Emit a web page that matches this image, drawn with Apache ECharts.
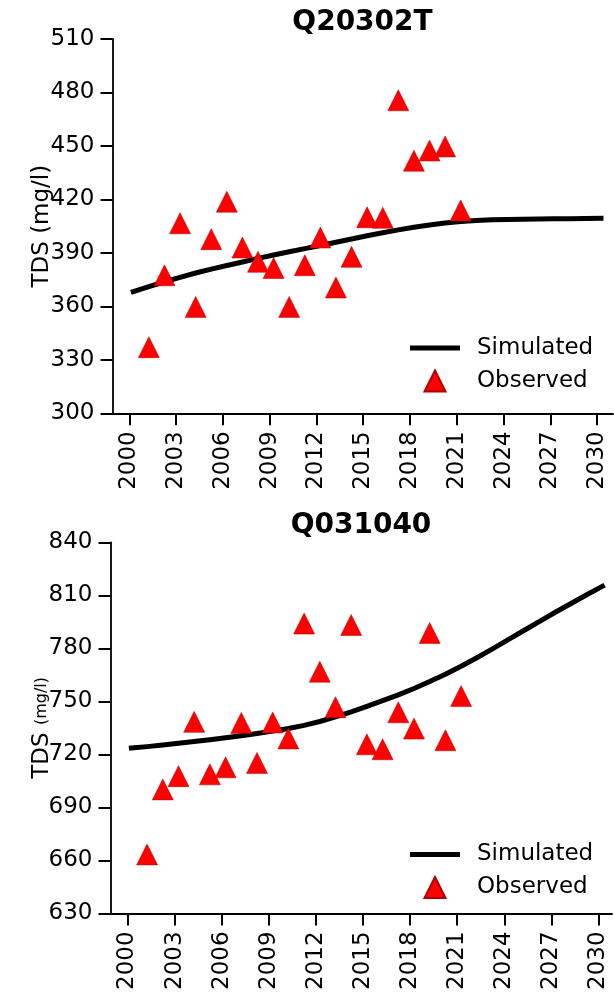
<!DOCTYPE html>
<html>
<head>
<meta charset="utf-8">
<script src="https://cdn.jsdelivr.net/npm/echarts@6/dist/echarts.min.js"></script>
<style>
  html, body { margin: 0; padding: 0; background: #fff; }
  #chart { width: 614px; height: 993px; }
</style>
</head>
<body>
<div id="chart"></div>
<script>
// decimal years, simulated series
const simYears = [2000.25, 2001.25, 2002.25, 2003.25, 2004.25, 2005.25, 2006.25, 2007.25, 2008.25, 2009.25,
  2010.25, 2011.25, 2012.25, 2013.25, 2014.25, 2015.25, 2016.25, 2017.25, 2018.25, 2019.25,
  2020.25, 2021.25, 2022.25, 2023.25, 2024.25, 2025.25, 2026.25, 2027.25, 2028.25, 2029.25, 2030.25];
const topSim = [368.3, 371.1, 373.8, 376.3, 378.7, 380.9, 382.9, 384.9, 386.9, 388.8,
  390.6, 392.4, 394.1, 396.0, 397.8, 399.6, 401.3, 402.9, 404.4, 405.7,
  406.8, 407.6, 408.2, 408.6, 408.8, 408.9, 409.0, 409.1, 409.2, 409.3, 409.4];
const bottomSim = [723.6, 724.4, 725.3, 726.25, 727.25, 728.3, 729.4, 730.55, 731.8, 733.15,
  734.65, 736.4, 738.6, 741.2, 744.1, 747.2, 750.4, 753.7, 757.3, 761.2,
  765.4, 769.9, 774.7, 779.7, 784.9, 790.1, 795.3, 800.4, 805.4, 810.3, 815.1];

// observed samples
const obsYears = [2001.25, 2002.25, 2003.25, 2004.25, 2005.25, 2006.25, 2007.25, 2008.25, 2009.25, 2010.25,
  2011.25, 2012.25, 2013.25, 2014.25, 2015.25, 2016.25, 2017.25, 2018.25, 2019.25, 2020.25, 2021.25];
const topObs = [337.1, 377.4, 406.6, 359.7, 397.7, 418.7, 393.0, 385.0, 381.5, 359.7,
  383.1, 398.6, 370.6, 387.8, 410.0, 409.7, 475.6, 441.7, 447.4, 449.7, 413.8];
const bottomObs = [663.4, 700.2, 707.7, 738.4, 708.7, 712.7, 737.8, 715.2, 738.1, 729.0,
  794.0, 766.8, 746.7, 793.2, 725.7, 722.9, 743.8, 734.6, 788.7, 728.0, 753.0];

const yearTicks = [2000, 2003, 2006, 2009, 2012, 2015, 2018, 2021, 2024, 2027, 2030];
const titles = ['Q20302T', 'Q031040'];

const FONT = 'DejaVu Sans';
const pair = (xs, ys) => xs.map((x, i) => [x, ys[i]]);

const axisLine = { show: true, lineStyle: { color: '#000', width: 1.8 } };
const axisTick = { show: true, length: 12, lineStyle: { color: '#000', width: 2 } };

function xAxis(gridIndex, min, max) {
  return {
    type: 'value', gridIndex, min, max,
    axisLine, splitLine: { show: false },
    axisTick: { ...axisTick, customValues: yearTicks },
    axisLabel: { customValues: yearTicks, formatter: (v) => String(v), rotate: 90, margin: 18,
      fontSize: 23, fontFamily: FONT, color: '#000' },
  };
}

function yAxis(gridIndex, min, max, name, gap, nameStyle) {
  return {
    type: 'value', gridIndex, min, max, interval: 30,
    axisLine, axisTick, splitLine: { show: false },
    axisLabel: { margin: 18, fontSize: 23, fontFamily: FONT, color: '#000' },
    name, nameLocation: 'middle', nameGap: gap, nameRotate: 90, nameMoveOverlap: false,
    nameTextStyle: { fontSize: 23, fontFamily: FONT, color: '#000', ...nameStyle },
  };
}

function legendAt(top) {
  return {
    orient: 'vertical', left: 410, top, padding: 0, itemWidth: 50, itemHeight: 21, itemGap: 10,
    data: [
      { name: 'Simulated', icon: 'path://M0,0 L50,0 L50,5 L0,5 Z' },
      { name: 'Observed', icon: 'path://M10,0 L20,20 L0,20 Z' },
    ],
    textStyle: { fontSize: 23, fontFamily: FONT, color: '#000', padding: [0, 0, 0, 12] },
  };
}

const scatterStyle = { color: '#ff0000', borderColor: '#b00000', borderWidth: 0.5, opacity: 1 };
const lineStyle = { color: '#000', width: 5, cap: 'square', join: 'round' };

const chart = echarts.init(document.getElementById('chart'), null, { renderer: 'canvas' });
chart.setOption({
  animation: false,
  backgroundColor: '#fff',
  title: [
    { text: titles[0], left: 362.5, top: 8.5, textAlign: 'center', padding: 0,
      textStyle: { fontSize: 28, fontWeight: 'bold', fontFamily: FONT, color: '#000' } },
    { text: titles[1], left: 361, top: 511.5, textAlign: 'center', padding: 0,
      textStyle: { fontSize: 28, fontWeight: 'bold', fontFamily: FONT, color: '#000' } },
  ],
  grid: [
    { left: 112.5, right: 1, top: 39, height: 374.3 },
    { left: 110.5, right: 2, top: 542.3, height: 377.7 },
  ],
  xAxis: [xAxis(0, 1998.916, 2031.02), xAxis(1, 1998.92, 2030.86)],
  yAxis: [
    yAxis(0, 300, 510, 'TDS (mg/l)', 59, {}),
    yAxis(1, 630, 840, '{a|TDS} {b|(mg/l)}', 57, {
      rich: { a: { fontSize: 23, fontFamily: FONT, color: '#000' }, b: { fontSize: 16, fontFamily: FONT, color: '#000' } },
    }),
  ],
  legend: [legendAt(336.5), legendAt(843)],
  series: [
    { name: 'Simulated', type: 'line', xAxisIndex: 0, yAxisIndex: 0, data: pair(simYears, topSim),
      symbol: 'none', lineStyle, itemStyle: { color: '#000' }, z: 2 },
    { name: 'Observed', type: 'scatter', xAxisIndex: 0, yAxisIndex: 0, data: pair(obsYears, topObs),
      symbol: 'triangle', symbolSize: 21, itemStyle: scatterStyle, z: 3 },
    { name: 'Simulated', type: 'line', xAxisIndex: 1, yAxisIndex: 1, data: pair(simYears, bottomSim),
      symbol: 'none', lineStyle, itemStyle: { color: '#000' }, z: 2 },
    { name: 'Observed', type: 'scatter', xAxisIndex: 1, yAxisIndex: 1, data: pair(obsYears, bottomObs),
      symbol: 'triangle', symbolSize: 21, itemStyle: scatterStyle, z: 3 },
  ],
});
</script>
</body>
</html>
